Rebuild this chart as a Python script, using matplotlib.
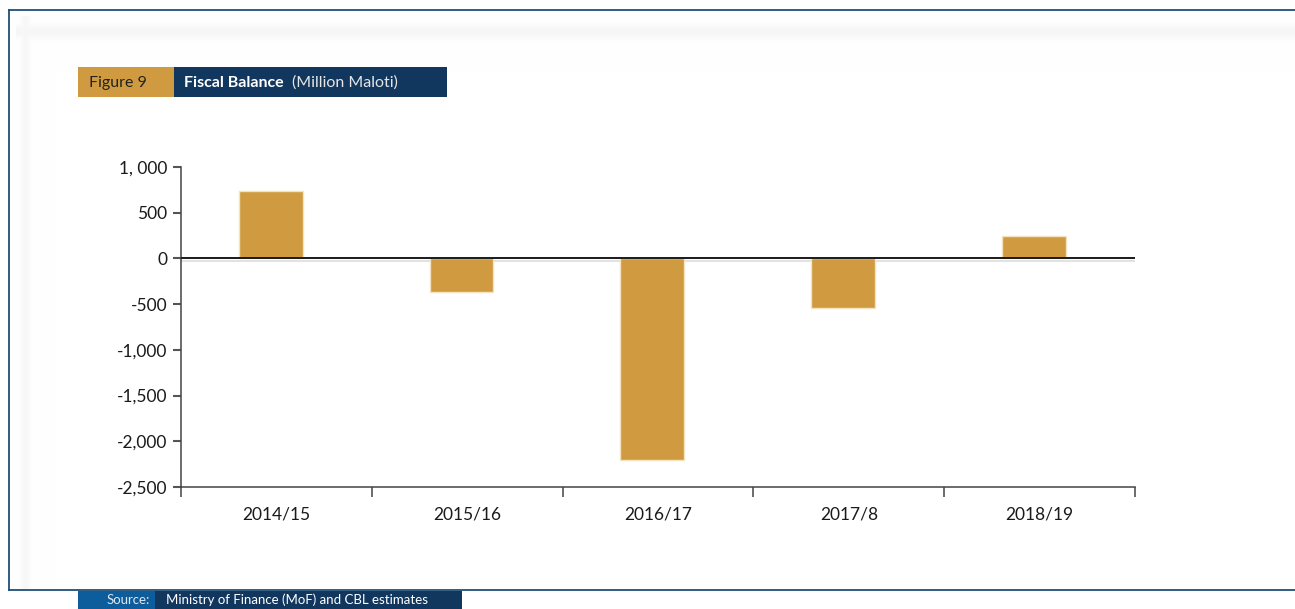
import numpy as np
import matplotlib
matplotlib.use("Agg")
import matplotlib.pyplot as plt
from matplotlib.patches import Rectangle
from matplotlib.lines import Line2D

# ---- data ----
categories = ["2014/15", "2015/16", "2016/17", "2017/8", "2018/19"]
balance = [735, -365, -2200, -545, 245]
y_ticks = [1000, 500, 0, -500, -1000, -1500, -2000, -2500]
y_tick_labels = ["1, 000", "500", "0", "-500", "-1,000", "-1,500", "-2,000", "-2,500"]

W, H = 1295, 609
GOLD = "#D09B40"
NAVY = "#12375F"
BLUE = "#0D5C9C"
BORDER = "#1F4E79"

plt.rcParams['font.family'] = ['Lato', 'DejaVu Sans']

fig = plt.figure(figsize=(W / 100, H / 100), dpi=100)

def fx(x):
    return x / W

def fy(y):
    return 1 - y / H

# background with soft shadow bands
bg_ax = fig.add_axes([0, 0, 1, 1], zorder=-10)
bg_ax.set_axis_off()
img = np.ones((H, W, 3))
rows = np.arange(H)[:, None]
cols = np.arange(W)[None, :]
top_band = 0.035 * np.exp(-((rows - 31) / 7.0) ** 2) * (cols >= 16) * (rows >= 12) * (rows < 590)
left_band = 0.03 * np.exp(-((cols - 25) / 5.0) ** 2) * (rows >= 16) * (rows < 590) * (cols >= 11)
shade = np.maximum(top_band, left_band)
img = img - shade[:, :, None]
bg_ax.imshow(img, extent=[0, 1, 0, 1], aspect='auto', interpolation='bilinear')
bg_ax.set_xlim(0, 1)
bg_ax.set_ylim(0, 1)

# border lines
lw_b = 1.3
fig.add_artist(Line2D([fx(9), 1], [fy(10), fy(10)], color=BORDER, lw=lw_b))
fig.add_artist(Line2D([fx(9), fx(9)], [fy(10), fy(590)], color=BORDER, lw=lw_b))
fig.add_artist(Line2D([fx(9), 1], [fy(590), fy(590)], color=BORDER, lw=lw_b))

# header boxes
fig.add_artist(Rectangle((fx(78), fy(97)), fx(174) - fx(78), fy(67) - fy(97),
                         facecolor=GOLD, edgecolor='none'))
fig.add_artist(Rectangle((fx(174), fy(97)), fx(447) - fx(174), fy(67) - fy(97),
                         facecolor=NAVY, edgecolor='none'))
fig.text(fx(89), fy(83), "Figure 9", fontsize=11.5, color="#222222", va='center', ha='left')
fig.text(fx(184), fy(83), "Fiscal Balance", fontsize=11.5, color="white",
         va='center', ha='left', fontweight='bold')
fig.text(fx(292), fy(83), "(Million Maloti)", fontsize=11.5, color="#e6e6e6",
         va='center', ha='left')

# source boxes
fig.add_artist(Rectangle((fx(78), 0), fx(155) - fx(78), fy(591), facecolor=BLUE, edgecolor='none'))
fig.add_artist(Rectangle((fx(155), 0), fx(462) - fx(155), fy(591), facecolor=NAVY, edgecolor='none'))
fig.text(fx(150), fy(600), "Source:", fontsize=9.5, color="#dfe8f2", va='center', ha='right')
fig.text(fx(166), fy(600), "Ministry of Finance (MoF) and CBL estimates", fontsize=9.5,
         color="white", va='center', ha='left')

# main axes
ax = fig.add_axes([fx(181), fy(487), fx(1135) - fx(181), fy(167) - fy(487)])
ax.set_facecolor('none')
x = np.arange(len(categories)) + 0.5 - 0.03
ax.bar(x, balance, width=0.335, color=GOLD, edgecolor='#f3e3c3', linewidth=1.0, zorder=2)
ax.axhline(0, color='#1a1a1a', lw=1.4, zorder=3)
ax.axhline(-25, color='#dddddd', lw=1.2, zorder=1)

ax.set_xlim(0, len(categories))
ax.set_ylim(-2500, 1000)
ax.set_yticks(y_ticks)
ax.set_yticklabels(y_tick_labels, fontsize=12.5, color='#1a1a1a')
ax.set_xticks(np.arange(len(categories) + 1))
ax.set_xticklabels([])
ax.set_xticks(np.arange(len(categories)) + 0.5, minor=True)
ax.set_xticklabels(categories, minor=True, fontsize=12.5, color='#1a1a1a')
ax.tick_params(axis='x', which='major', direction='out', length=7, width=1.1, color='#444444')
ax.tick_params(axis='x', which='minor', length=0, pad=14)
ax.tick_params(axis='y', direction='out', length=6, width=1.5, color='#555555', pad=4)
for s in ['top', 'right']:
    ax.spines[s].set_visible(False)
for s in ['left', 'bottom']:
    ax.spines[s].set_color('#444444')
    ax.spines[s].set_linewidth(1.1)

fig.savefig("out.png", dpi=100)
